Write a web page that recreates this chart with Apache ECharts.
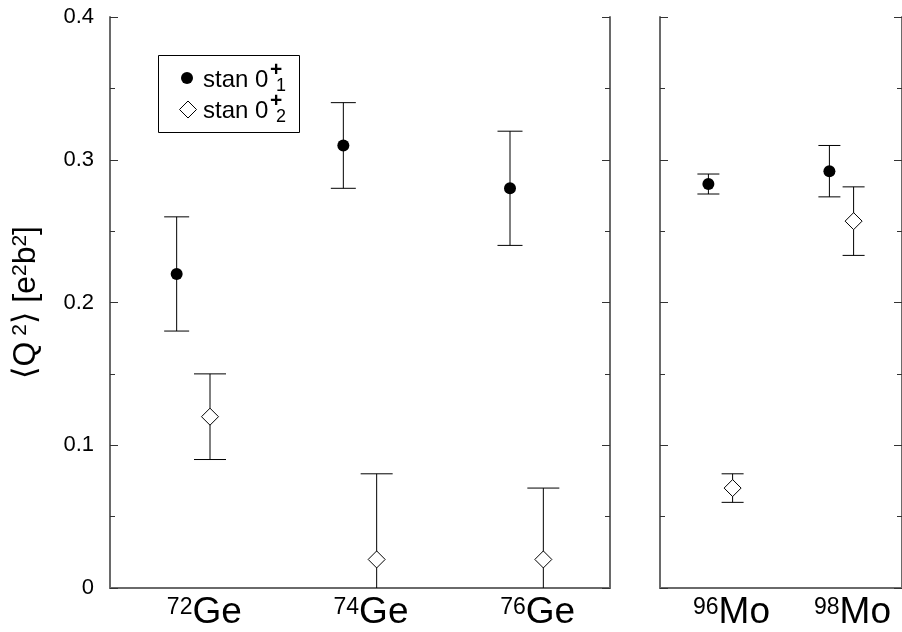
<!DOCTYPE html>
<html><head><meta charset="utf-8">
<script src="https://cdn.jsdelivr.net/npm/echarts@6/dist/echarts.min.js"></script>
<style>html,body{margin:0;padding:0;background:#fff}#c{width:902px;height:632px}</style>
</head><body><div id="c"></div><script>
// ---- data ----
const geMass = ['72', '74', '76'];
const moMass = ['96', '98'];
const geStan1 = [0.22, 0.31, 0.28];
const geStan1Low = [0.18, 0.28, 0.24];
const geStan1High = [0.26, 0.34, 0.32];
const geStan2 = [0.12, 0.02, 0.02];
const geStan2Low = [0.09, -0.04, -0.03];
const geStan2High = [0.15, 0.08, 0.07];
const moStan1 = [0.283, 0.292];
const moStan1Low = [0.276, 0.274];
const moStan1High = [0.290, 0.310];
const moStan2 = [0.070, 0.257];
const moStan2Low = [0.060, 0.233];
const moStan2High = [0.080, 0.281];
const yMin = 0, yMax = 0.4, yStep = 0.1;

const FONT = "'Liberation Sans', Arial, 'DejaVu Sans', sans-serif";
const AXIS_COLOR = '#6a6a6a';
const TICK_COLOR = '#333';

function rows(vals, lo, hi) {
  return vals.map((v, i) => [i, v, lo[i], hi[i]]);
}

function makeRender(kind, side, capW) {
  return function (params, api) {
    const i = api.value(0);
    const band = api.size([1, 0])[0];
    const shift = side * 0.1 * band;
    const p = api.coord([i, api.value(1)]);
    const pl = api.coord([i, api.value(2)]);
    const ph = api.coord([i, api.value(3)]);
    const x = p[0] + shift;
    const ls = { stroke: '#000', lineWidth: 1 };
    const children = [
      { type: 'line', shape: { x1: x, y1: ph[1], x2: x, y2: pl[1] }, style: ls },
      { type: 'line', shape: { x1: x - capW / 2, y1: ph[1], x2: x + capW / 2, y2: ph[1] }, style: ls },
      { type: 'line', shape: { x1: x - capW / 2, y1: pl[1], x2: x + capW / 2, y2: pl[1] }, style: ls }
    ];
    if (kind === 'circle') {
      children.push({ type: 'circle', shape: { cx: x, cy: p[1], r: 6 }, style: { fill: '#000' } });
    } else {
      const h = 8.5;
      children.push({ type: 'polygon', shape: { points: [[x, p[1] - h], [x + h, p[1]], [x, p[1] + h], [x - h, p[1]]] },
        style: { fill: '#fff', stroke: '#000', lineWidth: 1 } });
    }
    return { type: 'group', children: children };
  };
}

function xAxes(grid, cats, elem) {
  const common = {
    gridIndex: grid, type: 'category', data: cats, boundaryGap: true,
    axisLine: { lineStyle: { color: AXIS_COLOR, width: 2 } },
    splitLine: { show: false }
  };
  return [
    Object.assign({}, common, {
      position: 'bottom',
      axisTick: { inside: true, alignWithLabel: true, length: 9, lineStyle: { color: TICK_COLOR } },
      axisLabel: {
        margin: 8,
        padding: [0, 0, 0, 22],
        formatter: v => '{sup|' + v + '}{el|' + elem + '}',
        rich: {
          sup: { fontSize: 23, fontFamily: FONT, color: '#000', verticalAlign: 'top', lineHeight: 34 },
          el: { fontSize: 37, fontFamily: FONT, color: '#000', lineHeight: 34 }
        }
      }
    }),
    Object.assign({}, common, {
      position: 'top',
      axisTick: { inside: true, alignWithLabel: true, length: 8, lineStyle: { color: TICK_COLOR } },
      axisLabel: { show: false }
    })
  ];
}

function yAxes(grid, withLabels) {
  const common = {
    gridIndex: grid, type: 'value', min: yMin, max: yMax, interval: yStep,
    axisLine: { show: true, lineStyle: { color: AXIS_COLOR, width: 2 } },
    axisTick: { show: true, inside: true, length: 8, lineStyle: { color: TICK_COLOR } },
    minorTick: { show: true, splitNumber: 2, length: 5, lineStyle: { color: TICK_COLOR } },
    splitLine: { show: false }
  };
  const left = Object.assign({}, common, {
    position: 'left',
    axisLabel: {
      show: withLabels, margin: 16, fontSize: 22, fontFamily: FONT, color: '#000',
      formatter: v => (v === 0 ? '0' : v.toFixed(1))
    }
  });
  if (withLabels) {
    Object.assign(left, {
      name: '⟨Q{sup| 2}⟩ [e{sup|2}b{sup|2}]',
      nameLocation: 'middle', nameRotate: 90, nameGap: 68,
      nameTextStyle: {
        fontSize: 32, fontFamily: FONT, color: '#000',
        rich: { sup: { fontSize: 21, fontFamily: FONT, color: '#000', verticalAlign: 'top' } }
      }
    });
  }
  const right = Object.assign({}, common, { position: 'right', axisLabel: { show: false } });
  return [left, right];
}

const chart = echarts.init(document.getElementById('c'), null, { renderer: 'canvas' });
chart.setOption({
  backgroundColor: '#fff',
  animation: false,
  grid: [
    { left: 110, right: 292, top: 17, bottom: 44 },
    { left: 660, right: -6, top: 17, bottom: 44 }
  ],
  xAxis: [].concat(xAxes(0, geMass, 'Ge'), xAxes(1, moMass, 'Mo')),
  yAxis: [].concat(yAxes(0, true), yAxes(1, false)),
  series: [
    { type: 'custom', xAxisIndex: 0, yAxisIndex: 0, clip: true, data: rows(geStan1, geStan1Low, geStan1High),
      encode: { x: 0, y: 1 }, renderItem: makeRender('circle', -1, 25) },
    { type: 'custom', xAxisIndex: 0, yAxisIndex: 0, clip: true, data: rows(geStan2, geStan2Low, geStan2High),
      encode: { x: 0, y: 1 }, renderItem: makeRender('diamond', 1, 32) },
    { type: 'custom', xAxisIndex: 2, yAxisIndex: 2, clip: true, data: rows(moStan1, moStan1Low, moStan1High),
      encode: { x: 0, y: 1 }, renderItem: makeRender('circle', -1, 22) },
    { type: 'custom', xAxisIndex: 2, yAxisIndex: 2, clip: true, data: rows(moStan2, moStan2Low, moStan2High),
      encode: { x: 0, y: 1 }, renderItem: makeRender('diamond', 1, 22) }
  ],
  graphic: [
    { type: 'rect', shape: { x: 158.5, y: 55.5, width: 141, height: 77 }, style: { fill: '#fff', stroke: '#000', lineWidth: 1 }, z: 10 },
    { type: 'circle', shape: { cx: 187, cy: 78, r: 6 }, style: { fill: '#000' }, z: 11 },
    { type: 'polygon', shape: { points: [[188, 101], [196.5, 109.5], [188, 118], [179.5, 109.5]] }, style: { fill: '#fff', stroke: '#000', lineWidth: 1 }, z: 11 },
    { type: 'text', x: 203, y: 80, style: { text: 'stan 0', font: '24px ' + FONT, fill: '#000', verticalAlign: 'middle' }, z: 11 },
    { type: 'text', x: 270, y: 70, style: { text: '+', font: 'bold 21px ' + FONT, fill: '#000', verticalAlign: 'middle' }, z: 11 },
    { type: 'text', x: 276, y: 86, style: { text: '1', font: '18px ' + FONT, fill: '#000', verticalAlign: 'middle' }, z: 11 },
    { type: 'text', x: 203, y: 111, style: { text: 'stan 0', font: '24px ' + FONT, fill: '#000', verticalAlign: 'middle' }, z: 11 },
    { type: 'text', x: 270, y: 101, style: { text: '+', font: 'bold 21px ' + FONT, fill: '#000', verticalAlign: 'middle' }, z: 11 },
    { type: 'text', x: 276, y: 117, style: { text: '2', font: '18px ' + FONT, fill: '#000', verticalAlign: 'middle' }, z: 11 }
  ]
});
</script></body></html>
